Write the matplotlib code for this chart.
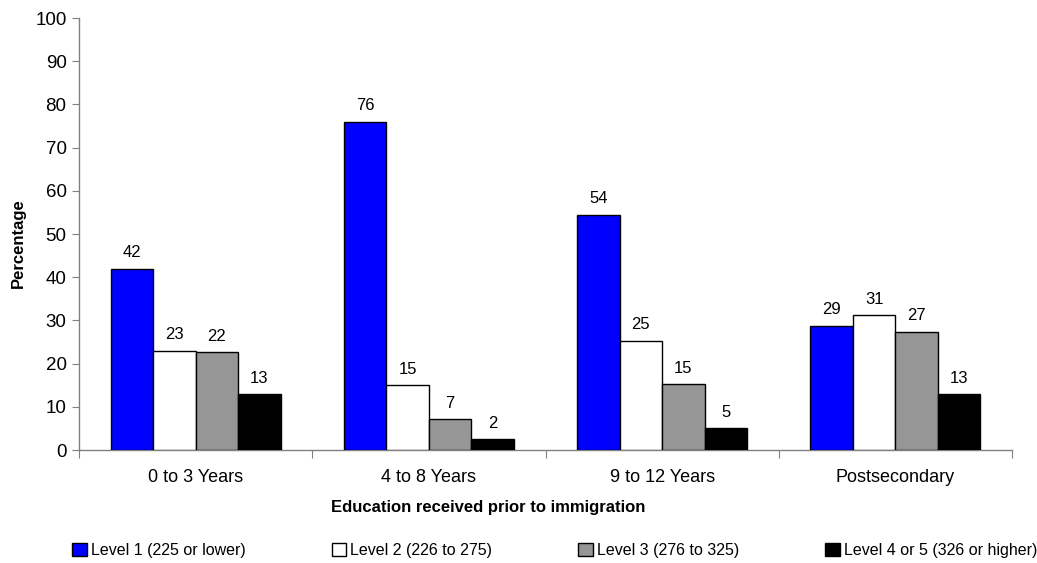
import matplotlib
matplotlib.use('Agg')
import matplotlib.pyplot as plt
import numpy as np
from matplotlib import font_manager

# pick a narrow Arial-like face if there is one
names = set(f.name for f in font_manager.fontManager.ttflist)
face = 'Liberation Sans Narrow' if 'Liberation Sans Narrow' in names else 'Liberation Sans'
plt.rcParams['font.family'] = [face, 'DejaVu Sans']

categories = ['0 to 3 Years', '4 to 8 Years', '9 to 12 Years', 'Postsecondary']
series_names = ['Level 1 (225 or lower)', 'Level 2 (226 to 275)',
                'Level 3 (276 to 325)', 'Level 4 or 5 (326 or higher)']
level1 = [42.0, 76.0, 54.5, 28.8]
level2 = [23.0, 15.0, 25.3, 31.2]
level3 = [22.6, 7.1, 15.3, 27.4]
level4 = [12.9, 2.5, 5.1, 12.9]
label1 = ['42', '76', '54', '29']
label2 = ['23', '15', '25', '31']
label3 = ['22', '7', '15', '27']
label4 = ['13', '2', '5', '13']
colors = ['#0000ff', '#ffffff', '#969696', '#000000']

fig = plt.figure(figsize=(10.37, 5.63), dpi=100)
ax = fig.add_axes([0.0762, 0.2007, 0.8997, 0.7673])

x = np.arange(len(categories)) + 0.5
w = 0.182
for i, (vals, labs) in enumerate(zip([level1, level2, level3, level4],
                                     [label1, label2, label3, label4])):
    pos = x + (i - 1.5) * w
    ax.bar(pos, vals, w, color=colors[i], edgecolor='black', linewidth=1.0,
           label=series_names[i], zorder=3)
    for p, v, t in zip(pos, vals, labs):
        ax.annotate(t, (p, v), xytext=(0, 6), textcoords='offset points',
                    ha='center', va='bottom', fontsize=12)

ax.set_xlim(0, 4)
ax.set_ylim(0, 100)
ax.set_yticks(range(0, 101, 10))
ax.set_xticks([0, 1, 2, 3, 4])
ax.set_xticklabels([])
ax.set_xticks(x, minor=True)
ax.set_xticklabels(categories, minor=True, fontsize=13)
ax.tick_params(axis='x', which='minor', length=0, pad=14)
ax.tick_params(axis='x', which='major', length=6, direction='out', color='#808080')
ax.tick_params(axis='y', length=5, direction='out', labelsize=13.5, color='#808080', pad=4)

for s in ['top', 'right']:
    ax.spines[s].set_visible(False)
for s in ['left', 'bottom']:
    ax.spines[s].set_color('#808080')
    ax.spines[s].set_linewidth(1.0)

ax.set_ylabel('Percentage', fontsize=12, fontweight='bold', va='center')
ax.yaxis.set_label_coords(-0.065, 0.479)
fig.text(0.471, 0.099, 'Education received prior to immigration',
         ha='center', va='center', fontsize=12, fontweight='bold')

fig.legend(loc='center', bbox_to_anchor=(0.535, 0.022), ncol=4, frameon=False,
           fontsize=11.5, handlelength=0.9, handleheight=0.9, handletextpad=0.25,
           columnspacing=5.4, borderaxespad=0, borderpad=0)

fig.savefig('out.png', dpi=100)
